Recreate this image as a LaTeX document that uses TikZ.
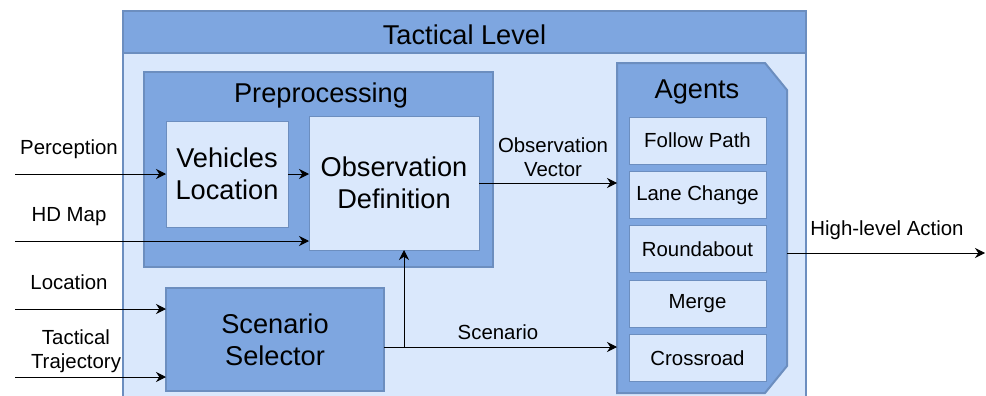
\documentclass[tikz,border=0pt]{standalone}
\usepackage{fontspec}
\setmainfont{Liberation Sans}
\usetikzlibrary{arrows.meta,positioning}
\definecolor{darkblue}{HTML}{7EA6E0}
\definecolor{lightblue}{HTML}{DAE8FC}
\definecolor{edgeblue}{HTML}{6C8EBF}

\begin{document}
\begin{tikzpicture}[
  x=0.75pt, y=-0.75pt,
  node distance=5.6pt,
  big/.style={font=\fontsize{20.4}{24}\selectfont, align=center},
  small/.style={font=\fontsize{15.3}{18}\selectfont, align=center},
  group/.style={rectangle, draw=edgeblue, fill=darkblue, line width=0.9pt,
    inner sep=0pt, outer sep=0pt},
  block/.style={rectangle, draw=edgeblue, fill=lightblue, line width=0.75pt,
    inner sep=0pt, outer sep=0pt, big},
  agent/.style={block, small, minimum width=102.75pt, minimum height=35.25pt},
  arr/.style={-{Stealth[length=7.5pt,width=7.5pt,inset=2.5pt]}, line width=0.75pt}
]
\clip (0,0) rectangle (986,396);

% Tactical level frame
\filldraw[fill=lightblue, draw=edgeblue, line width=1.5pt] (123,11) rectangle (806,420);
\filldraw[fill=darkblue, draw=edgeblue, line width=1.5pt] (123,11) rectangle (806,53);
\node[big, anchor=base] (tactical) at (464.5,44) {Tactical Level};

% Preprocessing
\node[group, minimum width=261.75pt, minimum height=146.25pt] (prep) at (318.5,169.5) {};
\node[big, anchor=base] (preptitle) at (321,102) {Preprocessing};
\node[block, minimum width=91.5pt, minimum height=79.5pt] (vehloc) at (227,174) {Vehicles\\Location};
\node[block, minimum width=127.5pt, minimum height=100.5pt] (obsdef) at (394,183) {Observation\\Definition};

% Scenario selector
\node[group, big, minimum width=163.5pt, minimum height=77.25pt] (selector) at (275,339.5) {Scenario\\Selector};

% Agents
\node[minimum width=127.5pt, minimum height=247.5pt, inner sep=0pt, outer sep=0pt] (agents) at (702,228) {};
\filldraw[fill=darkblue, draw=edgeblue, line width=1.5pt] (agents.north west)
  -- ([xshift=-16.5pt]agents.north east) -- ([yshift=-20.25pt]agents.north east)
  -- ([yshift=20.25pt]agents.south east) -- ([xshift=-16.5pt]agents.south east)
  -- (agents.south west) -- cycle;
\node[big, anchor=base] (agtitle) at (697,98) {Agents};
\node[agent] (follow) at (697.5,140.5) {Follow Path};
\node[agent, below=of follow] (lane) {Lane Change};
\node[agent, below=of lane] (round) {Roundabout};
\node[agent, below=of round] (merge) {Merge};
\node[agent, below=of merge] (cross) {Crossroad};

% Inputs
\coordinate (inper) at (15,174);
\coordinate (inhd) at (15,241);
\coordinate (inloc) at (15,309);
\coordinate (intraj) at (15,377);
\draw[arr] (inper) -- (vehloc.west);
\draw[arr] (inhd) -- (inhd -| obsdef.west);
\draw[arr] (inloc) -- (inloc -| selector.west);
\draw[arr] (intraj) -- (intraj -| selector.west);
\node[small, anchor=base] (lblper) at (69,154) {Perception};
\node[small, anchor=base] (lblhd) at (69,221) {HD Map};
\node[small, anchor=base] (lblloc) at (69,289) {Location};
\node[small] (lbltraj) at (76,351) {Tactical\\Trajectory};

% Inner flow
\draw[arr] (vehloc.east) -- (vehloc.east -| obsdef.west);
\draw[arr] (obsdef.east) -- (obsdef.east -| agents.west);
\node[small] (lblobs) at (553,157) {Observation\\Vector};
\coordinate (jct) at (404,347);
\draw[arr] (selector.east |- jct) -- (jct -| agents.west);
\draw[arr] (jct) -- (obsdef.south -| jct);
\node[small, anchor=base] (lblscen) at (498,339) {Scenario};

% Output
\coordinate (out) at (985,253);
\draw[arr] (agents.east |- out) -- (out);
\node[small, anchor=base] (lblout) at (887,235) {High-level Action};

\end{tikzpicture}
\end{document}
